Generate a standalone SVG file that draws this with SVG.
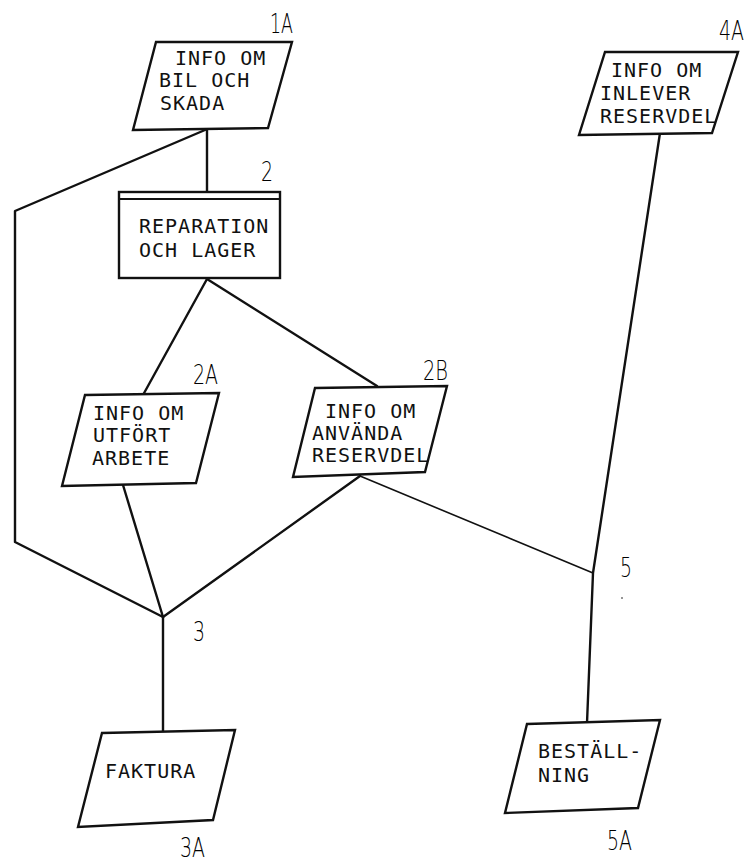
<svg xmlns="http://www.w3.org/2000/svg" width="752" height="862" viewBox="0 0 752 862">
<style>
.shape{fill:#fff;stroke:#111;stroke-width:2.4;stroke-linejoin:miter}
.t{font-family:"DejaVu Sans Mono","Liberation Mono",monospace;font-size:20px;letter-spacing:1px;fill:#111}
.lab{font-family:"DejaVu Sans","Liberation Sans",sans-serif;font-weight:300;font-size:26px;fill:#000}
.c{fill:none;stroke:#111;stroke-width:2.4;stroke-linecap:round;stroke-linejoin:round}
.thin{stroke-width:1.6}
</style>
<rect width="752" height="862" fill="#fff"/>
<g id="connectors">
  <path class="c" d="M207,129 V192"/>
  <path class="c" d="M205,130 L15,211 V542 L163,617"/>
  <path class="c" d="M207,279 L143,395"/>
  <path class="c" d="M207,279 L377,386"/>
  <path class="c" d="M123,485 L163,617"/>
  <path class="c" d="M360,476 L163,617"/>
  <path class="c" d="M163,617 V733"/>
  <path class="c thin" d="M360,476 L593,573"/>
  <path class="c" d="M660,133 L593,573 L587,723"/>
</g>
<g id="n1A">
  <polygon class="shape" points="156,42 292,42 268,128 133,130"/>
  <text class="t" x="175" y="65">INFO OM</text>
  <text class="t" x="159" y="87">BIL OCH</text>
  <text class="t" x="160" y="110">SKADA</text>
  <text class="lab" x="270" y="33" textLength="23" lengthAdjust="spacingAndGlyphs">1A</text>
</g>
<g id="n2">
  <rect class="shape" x="119" y="192" width="161" height="86"/>
  <line x1="119" y1="199" x2="280" y2="199" stroke="#111" stroke-width="2"/>
  <text class="t" x="139" y="233">REPARATION</text>
  <text class="t" x="139" y="257">OCH LAGER</text>
  <text class="lab" x="261" y="181" textLength="12" lengthAdjust="spacingAndGlyphs">2</text>
</g>
<g id="n2A">
  <polygon class="shape" points="85,395 219,393 196,483 62,486"/>
  <text class="t" x="93" y="420">INFO OM</text>
  <text class="t" x="93" y="442">UTFÖRT</text>
  <text class="t" x="92" y="465">ARBETE</text>
  <text class="lab" x="193" y="384" textLength="25" lengthAdjust="spacingAndGlyphs">2A</text>
</g>
<g id="n2B">
  <polygon class="shape" points="315,388 447,386 425,472 293,477"/>
  <text class="t" x="325" y="418">INFO OM</text>
  <text class="t" x="312" y="440">ANVÄNDA</text>
  <text class="t" x="312" y="462">RESERVDEL</text>
  <text class="lab" x="423" y="380" textLength="25" lengthAdjust="spacingAndGlyphs">2B</text>
</g>
<g id="n4A">
  <polygon class="shape" points="605,52 738,52 712,133 579,135"/>
  <text class="t" x="611" y="77">INFO OM</text>
  <text class="t" x="600" y="100">INLEVER</text>
  <text class="t" x="600" y="123">RESERVDEL</text>
  <text class="lab" x="719" y="40" textLength="25" lengthAdjust="spacingAndGlyphs">4A</text>
</g>
<g id="n3">
  <text class="lab" x="193" y="641" textLength="12" lengthAdjust="spacingAndGlyphs">3</text>
</g>
<g id="n5">
  <text class="lab" x="620" y="577" textLength="12" lengthAdjust="spacingAndGlyphs">5</text>
  <circle cx="622" cy="598" r="0.8" fill="#111"/>
</g>
<g id="n3A">
  <polygon class="shape" points="102,733 235,730 213,820 78,827"/>
  <text class="t" x="105" y="778">FAKTURA</text>
  <text class="lab" x="180" y="857" textLength="25" lengthAdjust="spacingAndGlyphs">3A</text>
</g>
<g id="n5A">
  <polygon class="shape" points="527,724 660,720 638,808 505,813"/>
  <text class="t" x="538" y="758">BESTÄLL-</text>
  <text class="t" x="538" y="782">NING</text>
  <text class="lab" x="607" y="850" textLength="25" lengthAdjust="spacingAndGlyphs">5A</text>
</g>
</svg>
